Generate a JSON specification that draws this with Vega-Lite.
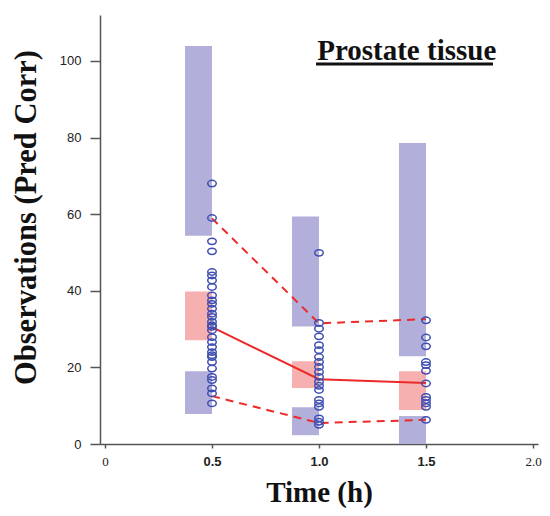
{
  "$schema": "https://vega.github.io/schema/vega-lite/v6.json",
  "width": 438,
  "height": 429,
  "autosize": {"type": "none"},
  "padding": {"left": 100, "top": 15, "right": 12, "bottom": 72},
  "background": "white",
  "config": {"view": {"stroke": null}},
  "datasets": {
    "bands": [
      {"time": 0.5, "lo": 54.4, "hi": 103.9, "band": "hi"},
      {"time": 0.5, "lo": 27.1, "hi": 39.8, "band": "mid"},
      {"time": 0.5, "lo": 7.8, "hi": 19.0, "band": "lo"},
      {"time": 1.0, "lo": 30.7, "hi": 59.4, "band": "hi"},
      {"time": 1.0, "lo": 14.6, "hi": 21.6, "band": "mid"},
      {"time": 1.0, "lo": 2.3, "hi": 9.6, "band": "lo"},
      {"time": 1.5, "lo": 22.9, "hi": 78.6, "band": "hi"},
      {"time": 1.5, "lo": 8.9, "hi": 19.0, "band": "mid"},
      {"time": 1.5, "lo": 0, "hi": 7.3, "band": "lo"}
    ],
    "lines": [
      {"time": 0.5, "stat": "p95", "value": 58.9},
      {"time": 1.0, "stat": "p95", "value": 31.5},
      {"time": 1.5, "stat": "p95", "value": 32.6},
      {"time": 0.5, "stat": "p50", "value": 30.5},
      {"time": 1.0, "stat": "p50", "value": 16.9},
      {"time": 1.5, "stat": "p50", "value": 15.9},
      {"time": 0.5, "stat": "p05", "value": 12.5},
      {"time": 1.0, "stat": "p05", "value": 5.5},
      {"time": 1.5, "stat": "p05", "value": 6.3}
    ],
    "obs": [
      {"time": 0.5, "obs": 68.0}, {"time": 0.5, "obs": 59.0}, {"time": 0.5, "obs": 52.9},
      {"time": 0.5, "obs": 50.3}, {"time": 0.5, "obs": 44.9}, {"time": 0.5, "obs": 44.0},
      {"time": 0.5, "obs": 42.7}, {"time": 0.5, "obs": 41.0}, {"time": 0.5, "obs": 38.8},
      {"time": 0.5, "obs": 37.5}, {"time": 0.5, "obs": 36.6}, {"time": 0.5, "obs": 35.3},
      {"time": 0.5, "obs": 34.0}, {"time": 0.5, "obs": 33.2}, {"time": 0.5, "obs": 31.9},
      {"time": 0.5, "obs": 31.0}, {"time": 0.5, "obs": 30.6}, {"time": 0.5, "obs": 29.7},
      {"time": 0.5, "obs": 27.9}, {"time": 0.5, "obs": 26.6}, {"time": 0.5, "obs": 25.3},
      {"time": 0.5, "obs": 24.0}, {"time": 0.5, "obs": 23.2}, {"time": 0.5, "obs": 22.7},
      {"time": 0.5, "obs": 21.4}, {"time": 0.5, "obs": 19.7}, {"time": 0.5, "obs": 17.5},
      {"time": 0.5, "obs": 16.7}, {"time": 0.5, "obs": 14.5}, {"time": 0.5, "obs": 13.2},
      {"time": 0.5, "obs": 10.6},
      {"time": 1.0, "obs": 49.9}, {"time": 1.0, "obs": 31.6}, {"time": 1.0, "obs": 30.1},
      {"time": 1.0, "obs": 28.1}, {"time": 1.0, "obs": 25.8}, {"time": 1.0, "obs": 24.5},
      {"time": 1.0, "obs": 22.7}, {"time": 1.0, "obs": 21.4}, {"time": 1.0, "obs": 20.1},
      {"time": 1.0, "obs": 18.8}, {"time": 1.0, "obs": 17.5}, {"time": 1.0, "obs": 16.2},
      {"time": 1.0, "obs": 15.2}, {"time": 1.0, "obs": 14.1}, {"time": 1.0, "obs": 11.5},
      {"time": 1.0, "obs": 10.6}, {"time": 1.0, "obs": 9.7}, {"time": 1.0, "obs": 6.7},
      {"time": 1.0, "obs": 5.8}, {"time": 1.0, "obs": 5.0},
      {"time": 1.5, "obs": 32.3}, {"time": 1.5, "obs": 27.8}, {"time": 1.5, "obs": 25.5},
      {"time": 1.5, "obs": 21.4}, {"time": 1.5, "obs": 20.6}, {"time": 1.5, "obs": 19.1},
      {"time": 1.5, "obs": 15.8}, {"time": 1.5, "obs": 12.3}, {"time": 1.5, "obs": 11.5},
      {"time": 1.5, "obs": 10.6}, {"time": 1.5, "obs": 9.7}, {"time": 1.5, "obs": 6.3}
    ]
  },
  "encoding": {
    "x": {
      "type": "quantitative",
      "scale": {"domain": [0, 2], "nice": false},
      "axis": {
        "values": [0, 0.5, 1, 1.5, 2],
        "title": "Time (h)",
        "titleFont": "Liberation Serif",
        "titleFontSize": 29,
        "titleFontWeight": "bold",
        "titleColor": "#111",
        "titlePadding": 10,
        "grid": false,
        "domainColor": "#555",
        "domainWidth": 1.5,
        "tickColor": "#555",
        "tickSize": 4,
        "tickWidth": 1.5,
        "labelPadding": 7,
        "labelFontSize": 13,
        "labelColor": "#222",
        "labelExpr": "datum.value === 0 ? '0' : format(datum.value, '.1f')",
        "labelFont": {"condition": {"test": "datum.value === 0 || datum.value === 2", "value": "Liberation Serif"}, "value": "Liberation Sans"},
        "labelFontWeight": {"condition": {"test": "datum.value === 0 || datum.value === 2", "value": "normal"}, "value": "bold"}
      }
    },
    "y": {
      "type": "quantitative",
      "scale": {"domain": [0, 112], "nice": false},
      "axis": {
        "values": [0, 20, 40, 60, 80, 100],
        "title": "Observations (Pred Corr)",
        "titleFont": "Liberation Serif",
        "titleFontSize": 30.5,
        "titleFontWeight": "bold",
        "titleColor": "#111",
        "titlePadding": 18,
        "titleY": 202,
        "grid": false,
        "domainColor": "#555",
        "domainWidth": 1.5,
        "tickColor": "#555",
        "tickSize": 10,
        "tickWidth": 1.5,
        "labelPadding": 9,
        "labelFont": "Liberation Sans",
        "labelFontSize": 13,
        "labelColor": "#222"
      }
    }
  },
  "layer": [
    {
      "data": {"name": "bands"},
      "mark": {"type": "bar", "width": 27, "xOffset": -13.5},
      "encoding": {
        "x": {"field": "time"},
        "y": {"field": "lo"},
        "y2": {"field": "hi"},
        "color": {"field": "band", "type": "nominal", "scale": {"domain": ["hi", "mid", "lo"], "range": ["#b2b0da", "#f6b0b0", "#b2b0da"]}, "legend": null}
      }
    },
    {
      "data": {"name": "lines"},
      "transform": [{"filter": "datum.stat !== 'p50'"}],
      "mark": {"type": "line", "color": "#ec2a2a", "strokeWidth": 2, "strokeDash": [8, 6]},
      "encoding": {
        "x": {"field": "time"},
        "y": {"field": "value"},
        "detail": {"field": "stat"}
      }
    },
    {
      "data": {"name": "lines"},
      "transform": [{"filter": "datum.stat === 'p50'"}],
      "mark": {"type": "line", "color": "#ec2a2a", "strokeWidth": 2},
      "encoding": {
        "x": {"field": "time"},
        "y": {"field": "value"}
      }
    },
    {
      "data": {"name": "obs"},
      "mark": {"type": "point", "shape": "M-1,0A1,0.75 0 1,1 1,0A1,0.75 0 1,1 -1,0Z", "size": 72, "filled": false, "color": "#3d4db0", "strokeWidth": 1.5, "opacity": 1},
      "encoding": {
        "x": {"field": "time"},
        "y": {"field": "obs"}
      }
    },
    {
      "data": {"values": [{"label": "Prostate tissue"}]},
      "mark": {"type": "text", "font": "Liberation Serif", "fontSize": 29, "fontWeight": "bold", "color": "#111", "align": "center", "baseline": "middle"},
      "encoding": {
        "x": {"datum": 1.41},
        "y": {"datum": 102.5},
        "text": {"field": "label"}
      }
    },
    {
      "data": {"values": [{"label": "underline"}]},
      "mark": {"type": "rule", "color": "#111", "strokeWidth": 3},
      "encoding": {
        "x": {"datum": 0.986},
        "x2": {"datum": 1.813},
        "y": {"datum": 99.2}
      }
    }
  ]
}
